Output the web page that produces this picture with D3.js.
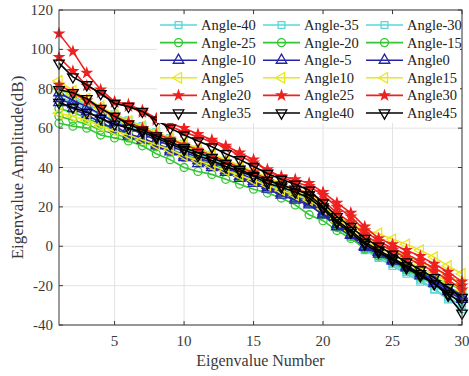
<!DOCTYPE html>
<html><head><meta charset="utf-8">
<script src="https://cdn.jsdelivr.net/npm/d3@7"></script>
<style>html,body{margin:0;padding:0;background:#fff;}svg{display:block;}</style>
</head><body>
<svg id="c" width="469" height="376"></svg>
<script>
const eigIndex = d3.range(1, 31);
const xTicks = [5, 10, 15, 20, 25, 30];
const yTicks = [-40, -20, 0, 20, 40, 60, 80, 100, 120];
const seriesNames = ["Angle-40","Angle-35","Angle-30","Angle-25","Angle-20","Angle-15","Angle-10","Angle-5","Angle0","Angle5","Angle10","Angle15","Angle20","Angle25","Angle30","Angle35","Angle40","Angle45"];
const groupColors = ["#5ad6d6","#33c733","#2424a8","#e8e81a","#ee2020","#000000"];
const groupMarkers = ["square","circle","triUp","triLeft","star","triDown"];

const angleM40 = [80,76,73,70,67,64,61,58,55,52,49,46.5,43.5,40,37,33.5,30,27,24,18.5,11,6,-1,-5,-9,-13,-17,-22,-27,-32];
const angleM35 = [78,75,72,69,65.5,62,59.5,56.5,53.5,50.5,48,45,42,39,35.5,32,29,26,23,17,10,5,-2,-6,-10,-14,-18,-22,-26,-30];
const angleM30 = [76,73,70,67,64,61,58.5,55.5,52.5,49.5,47,44,41,38,35,31.5,28.5,25.5,22.5,17,10.5,5.5,-1,-5,-8.5,-12,-16,-20,-24.5,-28];
const angleM25 = [62.5,61,60,56.5,55,53.5,51,47,44,40,38,36.5,34,31.5,29,27,24.5,21,16,13,8,4,-1,-4,-7,-10,-13,-16,-19,-22];
const angleM20 = [66,64,62,59,57,55,53,50.5,48,45,43,40.5,38,35,32.5,30,27.5,24.5,21.5,16,9.5,5,-1.5,-5,-8,-12,-15.5,-19,-23,-27];
const angleM15 = [70,68,65,62,59.5,57,54.5,52,49.5,46.5,44,41.5,39,36,33.5,31,28,25.5,22.5,17,10.5,6,0,-3.5,-7,-10.5,-14,-17.5,-21,-24];
const angleM10 = [78,74,71,67,63,60,57,54,51,48,45,42.5,40,37,34,31,28.5,26,23,17.5,11,6,0,-3,-7,-10.5,-14,-18,-22,-26];
const angleM5 = [75,72,68.5,65,61,57,55,52,49,46,43.5,41,38.5,35.5,33,30,27,24.5,22,16.5,10,5.5,-0.5,-4,-7.5,-11,-15,-19,-23,-27];
const angle0 = [73,70,66.5,63,59.5,56,54,51,48,45,42,40,37.5,34.5,32,29,26,23.5,21,16,10,5.5,0,-3,-6.5,-10,-13.5,-17,-21,-25];
const angle5 = [84,79,75,71,67,63.5,61,58,55,52.5,50,47,44,41,38,35,32,29.5,27,22,15,12,8,6.5,3.5,1,-2,-5.5,-10,-14];
const angle10 = [80,77,74,70,66,63,60,57,54,51,48.5,46,43,40,37,34,31,28.5,26,20.5,14,9.5,4,1,-2,-5,-8,-11,-15,-19];
const angle15 = [67.5,66,64,61,58.5,56.5,54,51.5,49,46,43.5,41,38.5,36,33.5,31,28.5,26,23.5,19,12.5,8,2.5,-1,-4,-7.5,-11,-14.5,-18,-22];
const angle20 = [108,99,88,79.5,73.5,72,69,65,62.5,60,57,54,51,47.5,44,38,35.5,34,32,27.5,22,17,10,4,1,-2,-5,-9,-13,-18];
const angle25 = [96,89,81.5,78,73,71,68,64,61,58,55.5,53,50,46,42.5,39,35,32.5,30.5,26,20,15,8,2.5,-1,-4,-7.5,-11,-15,-20];
const angle30 = [82,78,74,70,66,63,60,57,54.5,51.5,49,46,43,40,37.5,34,31,29,27,23,17,12,6,1,-2,-6,-9,-13,-17,-22];
const angle35 = [79.5,78,75,70,66,62,59,56,53,50,47.5,45,42,39,36,33.5,31,29,26,20,13,8,2,-2,-6,-10,-14,-19,-25,-34];
const angle40 = [73,70.5,68,65,62,60,58,55,52,49,46,43.5,40.5,38,35.5,32,30,27.5,24.5,19,12,7,1,-3,-7,-11,-15,-19,-24,-29];
const angle45 = [93,86,82,77.5,72.5,71,68.5,64,60,56.5,53.5,50.5,47,44,40.5,37,34,31.5,28.5,22,15,10,4,0,-4,-8,-12,-16,-21,-26];

const seriesValues = [angleM40,angleM35,angleM30,angleM25,angleM20,angleM15,angleM10,angleM5,angle0,angle5,angle10,angle15,angle20,angle25,angle30,angle35,angle40,angle45];

const FONT = "Liberation Serif";
const svg = d3.select("#c");
const L = 59, R = 462, T = 10, B = 325;
const x = d3.scaleLinear().domain([1, 30]).range([L, R]);
const y = d3.scaleLinear().domain([-40, 120]).range([B, T]);
const axisCol = "#3a3a3a";

svg.append("g").selectAll("line").data(xTicks).join("line")
  .attr("x1", d => x(d)).attr("x2", d => x(d)).attr("y1", T).attr("y2", B)
  .attr("stroke", "#e3e3e3").attr("stroke-width", 1);
svg.append("g").selectAll("line").data(yTicks).join("line")
  .attr("x1", L).attr("x2", R).attr("y1", d => y(d)).attr("y2", d => y(d))
  .attr("stroke", "#e3e3e3").attr("stroke-width", 1);

function sym(type, size) {
  if (type === "square") return d3.symbol(d3.symbolSquare, size)();
  if (type === "circle") return d3.symbol(d3.symbolCircle, size)();
  if (type === "star") return d3.symbol(d3.symbolStar, size)();
  return d3.symbol(d3.symbolTriangle, size)();
}
function rot(type) {
  if (type === "triLeft") return -90;
  if (type === "triDown") return 180;
  return 0;
}
const msize = {square: 46, circle: 50, triUp: 48, triLeft: 48, star: 24, triDown: 48};

const line = d3.line().x((d, i) => x(eigIndex[i])).y(d => y(d));
const plot = svg.append("g");
seriesValues.forEach((vals, si) => {
  const g = Math.floor(si / 3);
  const col = groupColors[g], mk = groupMarkers[g];
  plot.append("path").attr("d", line(vals)).attr("fill", "none")
    .attr("stroke", col).attr("stroke-width", 1.6);
  plot.append("g").selectAll("path").data(vals).join("path")
    .attr("d", sym(mk, msize[mk]))
    .attr("transform", (d, i) => `translate(${x(eigIndex[i])},${y(d)}) rotate(${rot(mk)})`)
    .attr("fill", mk === "star" ? col : "none")
    .attr("stroke", col).attr("stroke-width", mk === "star" ? 1.4 : 1.3);
});

svg.append("rect").attr("x", L).attr("y", T).attr("width", R - L).attr("height", B - T)
  .attr("fill", "none").attr("stroke", axisCol).attr("stroke-width", 1);
const tl = 4;
xTicks.forEach(t => {
  svg.append("line").attr("x1", x(t)).attr("x2", x(t)).attr("y1", B).attr("y2", B - tl).attr("stroke", axisCol);
  svg.append("line").attr("x1", x(t)).attr("x2", x(t)).attr("y1", T).attr("y2", T + tl).attr("stroke", axisCol);
});
yTicks.forEach(t => {
  svg.append("line").attr("x1", L).attr("x2", L + tl).attr("y1", y(t)).attr("y2", y(t)).attr("stroke", axisCol);
  svg.append("line").attr("x1", R).attr("x2", R - tl).attr("y1", y(t)).attr("y2", y(t)).attr("stroke", axisCol);
});

svg.append("g").selectAll("text").data(xTicks).join("text")
  .attr("x", d => x(d)).attr("y", 346).attr("text-anchor", "middle")
  .attr("font-family", FONT).attr("font-size", 15).attr("fill", axisCol).text(d => d);
svg.append("g").selectAll("text").data(yTicks).join("text")
  .attr("x", 53).attr("y", d => y(d) + 5).attr("text-anchor", "end")
  .attr("font-family", FONT).attr("font-size", 15).attr("fill", axisCol).text(d => d);

svg.append("text").attr("x", (L + R) / 2).attr("y", 366).attr("text-anchor", "middle")
  .attr("font-family", FONT).attr("font-size", 16).attr("fill", axisCol).text("Eigenvalue Number");
svg.append("text").attr("transform", `translate(23,${(T + B) / 2}) rotate(-90)`).attr("text-anchor", "middle")
  .attr("font-family", FONT).attr("font-size", 17).attr("fill", axisCol).text("Eigenvalue Amplitude(dB)");

const lg = svg.append("g");
lg.append("rect").attr("x", 157).attr("y", 15).attr("width", 303).attr("height", 108).attr("fill", "#fff");
const colX = [160, 263, 366], rowY0 = 25, rowDy = 17.6;
seriesNames.forEach((name, si) => {
  const g = Math.floor(si / 3), c = si % 3;
  const col = groupColors[g], mk = groupMarkers[g];
  const lx = colX[c], ly = rowY0 + g * rowDy;
  lg.append("line").attr("x1", lx).attr("x2", lx + 37).attr("y1", ly).attr("y2", ly)
    .attr("stroke", col).attr("stroke-width", 1.6);
  lg.append("path").attr("d", sym(mk, msize[mk]))
    .attr("transform", `translate(${lx + 18.5},${ly}) rotate(${rot(mk)})`)
    .attr("fill", mk === "star" ? col : "none").attr("stroke", col).attr("stroke-width", mk === "star" ? 1.4 : 1.3);
  lg.append("text").attr("x", lx + 41).attr("y", ly + 5).attr("font-family", FONT).attr("font-size", 14.5)
    .attr("fill", "#222").text(name);
});
</script>
</body></html>
